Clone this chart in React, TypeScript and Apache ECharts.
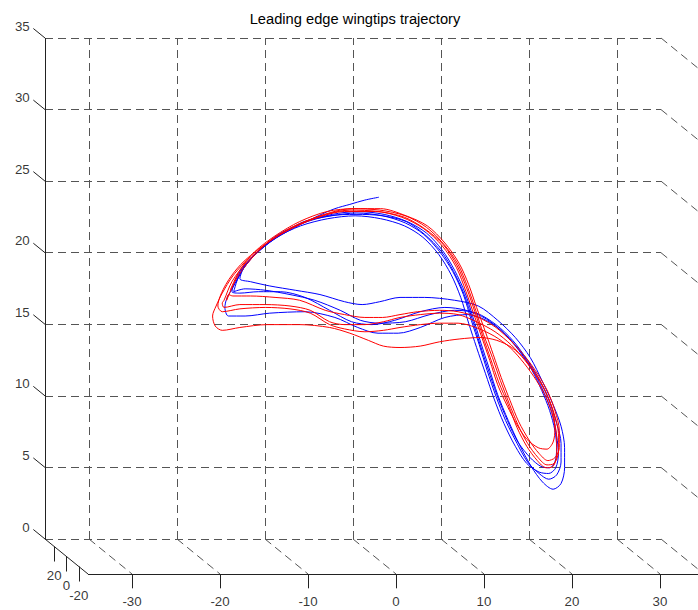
import React, { useEffect, useRef } from "react";
import * as echarts from "echarts";

const TITLE = "Leading edge wingtips trajectory";
const X_TICKS = [-30, -20, -10, 0, 10, 20, 30];
const Y_TICKS = [20, 0, -20];
const Z_TICKS = [0, 5, 10, 15, 20, 25, 30, 35];
const X_RANGE = [-35, 35];
const Y_RANGE = [-35, 35];
const Z_RANGE = [0, 35];
const TRACK_DEPTH = 0;

// trajectory samples as [x, z] (depth = TRACK_DEPTH)
const blueLoop1 = [
  [-15.7, 19.2], [-14.6, 20.4], [-12.8, 21.5], [-10.5, 22.6], [-7.8, 23.4], [-4.8, 23.9], [-1.9, 24.1], [1.1, 23.9], [3.7, 23.4], [5.9, 22.6], [7.7, 21.4], [9.1, 20.0], [10.3, 18.4], [11.2, 16.7], [12.1, 14.9], [13.0, 13.2], [14.0, 11.3], [15.2, 9.5], [16.4, 7.9], [17.8, 6.3], [19.1, 5.2], [20.3, 4.7], [21.2, 5.1], [21.6, 6.2], [21.6, 7.6], [21.2, 9.1], [20.3, 10.6], [19.1, 12.2], [17.7, 13.9], [16.0, 15.3], [14.0, 16.5], [11.8, 17.5], [9.1, 17.9], [5.7, 18.1], [2.9, 18.1], [0.6, 17.8], [-1.4, 17.6], [-3.4, 17.8], [-6.2, 18.3], [-9.0, 18.6], [-11.9, 18.9], [-14.1, 19.2], [-15.3, 19.4],
];
const blueLoop2 = [
  [-14.9, 20.1], [-13.1, 21.4], [-10.9, 22.5], [-8.1, 23.3], [-5.1, 23.8], [-2.1, 23.9], [0.9, 23.8], [3.5, 23.3], [5.6, 22.5], [7.4, 21.3], [8.9, 19.9], [10.1, 18.3], [11.0, 16.5], [11.9, 14.8], [12.8, 13.0], [13.8, 11.2], [14.9, 9.5], [16.2, 7.9], [17.4, 6.6], [18.7, 5.8], [19.8, 5.4], [20.7, 5.7], [21.2, 6.6], [21.2, 7.9], [20.7, 9.3], [19.9, 10.8], [18.8, 12.3], [17.4, 13.7], [15.7, 15.1], [13.8, 16.2], [11.6, 17.0], [9.1, 17.2], [6.3, 16.9], [3.5, 16.4], [0.6, 16.3], [-1.6, 16.5], [-3.9, 17.2], [-6.8, 17.9], [-9.6, 18.3], [-12.4, 18.6], [-14.7, 18.7], [-16.0, 18.5],
];
const blueLoop3 = [
  [-15.2, 19.9], [-13.4, 21.2], [-11.1, 22.3], [-8.4, 23.1], [-5.3, 23.6], [-2.2, 23.8], [0.7, 23.6], [3.4, 23.1], [5.5, 22.3], [7.3, 21.1], [8.7, 19.7], [9.8, 18.1], [10.7, 16.3], [11.6, 14.6], [12.6, 12.8], [13.6, 11.0], [14.7, 9.3], [16.0, 7.7], [17.3, 6.5], [18.7, 5.9], [19.8, 5.8], [20.6, 6.2], [20.9, 7.2], [20.7, 8.4], [20.2, 10.0], [19.3, 11.4], [18.1, 12.9], [16.6, 14.3], [14.9, 15.5], [13.0, 16.4], [10.6, 16.9], [8.0, 16.7], [5.2, 16.0], [2.7, 15.6], [0.4, 15.6], [-1.9, 16.0], [-4.5, 16.7], [-7.9, 17.1], [-11.9, 17.0], [-14.7, 16.8], [-16.6, 16.8], [-17.0, 17.4], [-16.8, 18.0],
];
const blueLoop4 = [
  [-16.0, 18.9], [-14.7, 20.3], [-12.9, 21.5], [-10.6, 22.5], [-8.0, 23.4], [-4.9, 23.8], [-2.0, 24.0], [1.0, 23.8], [3.6, 23.4], [5.7, 22.5], [7.6, 21.3], [9.0, 19.9], [10.2, 18.3], [11.1, 16.6], [12.0, 14.8], [12.9, 13.1], [13.9, 11.3], [15.1, 9.5], [16.3, 8.0], [17.7, 6.9], [18.9, 6.3], [19.9, 6.2], [20.5, 6.6], [20.7, 7.6], [20.5, 8.8], [19.9, 10.2], [19.0, 11.6], [17.9, 13.0], [16.4, 14.4], [14.7, 15.6], [12.7, 16.6], [10.4, 17.2], [8.0, 17.4], [5.2, 17.1], [2.3, 16.5], [-0.3, 16.2], [-2.6, 16.4], [-5.1, 17.2], [-7.9, 18.1], [-10.7, 18.5], [-13.2, 18.5], [-15.3, 18.4], [-16.2, 18.5],
];
const blueTail = [
  [-15.3, 19.9], [-13.6, 21.1], [-11.3, 22.2], [-8.7, 23.1], [-6.4, 23.8], [-4.5, 24.3], [-2.8, 24.6], [-1.1, 24.9], [0.5, 25.1],
];

const redLoop1 = [
  [-16.4, 18.6], [-15.3, 20.0], [-13.6, 21.3], [-11.3, 22.4], [-8.5, 23.4], [-5.4, 24.1], [-2.3, 24.3], [0.7, 24.3], [3.6, 23.8], [6.0, 23.1], [8.0, 21.9], [9.6, 20.5], [10.7, 19.0], [11.6, 17.4], [12.6, 15.7], [13.5, 14.1], [14.4, 12.5], [15.4, 10.9], [16.4, 9.4], [17.6, 8.1], [18.7, 7.2], [19.7, 6.7], [20.5, 6.9], [21.0, 7.6], [21.0, 8.8], [20.5, 10.2], [19.7, 11.5], [18.6, 12.7], [17.2, 13.9], [15.6, 15.0], [13.8, 16.0], [11.8, 16.7], [9.5, 17.1], [7.4, 17.2], [4.9, 17.1], [2.9, 16.9], [0.9, 16.7], [-1.1, 16.7], [-3.4, 16.9], [-5.6, 17.2], [-8.5, 17.9], [-11.3, 18.1], [-14.1, 18.2], [-16.1, 18.2], [-16.6, 18.3],
];
const redLoop2 = [
  [-16.8, 17.9], [-15.7, 19.4], [-14.0, 20.8], [-11.8, 22.1], [-8.9, 23.1], [-5.7, 23.9], [-2.6, 24.3], [0.6, 24.2], [3.5, 23.8], [5.9, 23.0], [7.9, 21.8], [9.5, 20.4], [10.6, 18.8], [11.5, 17.2], [12.4, 15.5], [13.4, 13.9], [14.3, 12.3], [15.3, 10.7], [16.3, 9.2], [17.4, 7.9], [18.6, 6.9], [19.6, 6.4], [20.4, 6.5], [20.9, 7.3], [20.9, 8.6], [20.4, 10.0], [19.6, 11.3], [18.5, 12.5], [17.1, 13.7], [15.5, 14.8], [13.7, 15.7], [11.6, 16.4], [9.5, 16.9], [7.4, 17.0], [5.2, 16.9], [2.9, 16.7], [1.0, 16.4], [-1.1, 16.2], [-3.4, 16.2], [-5.1, 16.4], [-7.3, 17.2], [-9.6, 17.5], [-12.4, 17.6], [-15.3, 17.6], [-17.1, 17.4], [-17.3, 17.7],
];
const redLoop3 = [
  [-17.1, 17.9], [-16.2, 19.2], [-14.5, 20.6], [-12.2, 21.9], [-9.4, 23.0], [-6.1, 23.8], [-2.8, 24.2], [0.5, 24.1], [3.4, 23.7], [5.7, 22.9], [7.8, 21.8], [9.4, 20.3], [10.5, 18.7], [11.4, 17.1], [12.3, 15.4], [13.2, 13.8], [14.1, 12.2], [15.2, 10.6], [16.2, 9.0], [17.3, 7.7], [18.5, 6.7], [19.5, 6.2], [20.3, 6.3], [20.7, 7.1], [20.7, 8.3], [20.3, 9.7], [19.5, 11.1], [18.4, 12.3], [17.0, 13.5], [15.4, 14.6], [13.6, 15.4], [11.5, 16.0], [9.5, 16.3], [7.4, 16.3], [5.2, 16.2], [2.9, 16.0], [1.0, 15.8], [-1.1, 15.7], [-3.4, 15.9], [-5.1, 16.2], [-7.3, 17.0], [-9.6, 17.3], [-12.4, 17.4], [-15.3, 17.3], [-17.3, 17.1], [-17.8, 17.5],
];
const redLoop4 = [
  [-16.9, 19.0], [-15.2, 20.4], [-12.9, 21.6], [-10.1, 22.7], [-6.8, 23.6], [-3.4, 24.1], [0.1, 24.1], [3.1, 23.7], [5.6, 22.9], [7.7, 21.7], [9.3, 20.2], [10.4, 18.5], [11.3, 16.9], [12.2, 15.3], [13.1, 13.7], [14.0, 12.0], [15.1, 10.5], [16.2, 9.2], [17.3, 8.2], [18.6, 7.6], [19.6, 7.5], [20.3, 8.0], [20.5, 8.9], [20.3, 10.1], [19.6, 11.3], [18.6, 12.5], [17.2, 13.7], [15.6, 14.6], [13.9, 15.1], [12.0, 15.3], [9.7, 15.2], [7.4, 15.0], [5.2, 14.7], [2.9, 14.6], [1.0, 14.7], [-0.7, 15.1], [-2.8, 15.6], [-5.1, 16.0], [-8.5, 16.2], [-12.2, 16.2], [-15.3, 16.0], [-17.3, 15.8], [-18.1, 16.1], [-18.4, 16.8], [-18.0, 17.5],
];
const redTail = [[-17.3, 18.4], [-16.1, 19.6], [-14.4, 20.8]];

// oblique projection of the 3-D box onto the page
const ORIGIN = [45, 539]; // page position of (xmin, ymax, zmin)
const SCALE_X = 8.8;
const SCALE_Z = 14.314;
const DEPTH_DX = 0.6143;
const DEPTH_DY = 0.5;
function proj(x: number, y: number, z: number): number[] {
  return [
    ORIGIN[0] + (x - X_RANGE[0]) * SCALE_X + (Y_RANGE[1] - y) * DEPTH_DX,
    ORIGIN[1] - (z - Z_RANGE[0]) * SCALE_Z + (Y_RANGE[1] - y) * DEPTH_DY,
  ];
}

const FONT = "'Liberation Sans', Arial, Helvetica, sans-serif";

export default function App() {
  const ref = useRef<HTMLDivElement>(null);
  useEffect(() => {
    if (!ref.current) return;
    const chart = echarts.init(ref.current, undefined, { renderer: "svg" });
    const [x0, x1] = X_RANGE;
    const [y0, y1] = Y_RANGE;
    const [z0, z1] = Z_RANGE;
    const seg = (a: number[], b: number[]) => ({ coords: [proj(a[0], a[1], a[2]), proj(b[0], b[1], b[2])] });

    const gridSegs: any[] = [];
    Z_TICKS.forEach((z) => {
      gridSegs.push(seg([x0, y1, z], [x1, y1, z]));
      gridSegs.push(seg([x1, y1, z], [x1, y0, z]));
    });
    X_TICKS.forEach((x) => {
      gridSegs.push(seg([x, y1, z0], [x, y1, z1]));
      gridSegs.push(seg([x, y1, z0], [x, y0, z0]));
    });
    const axisSegs: any[] = [
      seg([x0, y1, z0], [x0, y1, z1]),
      seg([x0, y1, z0], [x0, y0, z0]),
      seg([x0, y0, z0], [x1, y0, z0]),
    ];
    Z_TICKS.forEach((z) => axisSegs.push(seg([x0, y1, z], [x0, y1 + 19, z])));
    X_TICKS.forEach((x) => axisSegs.push(seg([x, y0, z0], [x, y0, z0 - 1])));
    Y_TICKS.forEach((y) => axisSegs.push(seg([x0, y, z0], [x0, y, z0 - 1.05])));

    const track = (pts: number[][]) => pts.map((p) => proj(p[0], TRACK_DEPTH, p[1]));
    const blue = track([...blueLoop1, ...blueLoop2, ...blueLoop3, ...blueLoop4, ...blueTail]);
    const red = track([...redLoop1, ...redLoop2, ...redLoop3, ...redLoop4, ...redTail]);

    const labelSeries = (items: { pos: number[]; text: string }[], position: string) => ({
      type: "scatter",
      silent: true,
      symbolSize: 1,
      itemStyle: { color: "rgba(0,0,0,0)" },
      z: 5,
      data: items.map((it) => ({ value: it.pos, name: it.text })),
      label: {
        show: true,
        formatter: "{b}",
        position,
        distance: 0,
        color: "#000",
        fontSize: 13.3,
        fontFamily: FONT,
      },
    });

    chart.setOption({
      animation: false,
      backgroundColor: "#fff",
      grid: { left: 0, right: 0, top: 0, bottom: 0 },
      xAxis: { type: "value", min: 0, max: 698, show: false },
      yAxis: { type: "value", min: 0, max: 610, inverse: true, show: false },
      graphic: [
        {
          type: "text",
          x: 355,
          y: 19,
          style: {
            text: TITLE,
            fill: "#000",
            font: `14.7px ${FONT}`,
            align: "center",
            verticalAlign: "middle",
          },
        },
      ],
      series: [
        {
          type: "lines",
          coordinateSystem: "cartesian2d",
          silent: true,
          z: 1,
          data: gridSegs,
          lineStyle: { color: "#555", width: 1, type: [8, 5], opacity: 1 },
        },
        {
          type: "lines",
          coordinateSystem: "cartesian2d",
          silent: true,
          z: 2,
          data: axisSegs,
          lineStyle: { color: "#222", width: 1, type: "solid", opacity: 1 },
        },
        {
          type: "line",
          data: blue,
          silent: true,
          showSymbol: false,
          symbol: "none",
          smooth: 0.3,
          z: 3,
          lineStyle: { color: "#0000ff", width: 1 },
        },
        {
          type: "line",
          data: red,
          silent: true,
          showSymbol: false,
          symbol: "none",
          smooth: 0.3,
          z: 4,
          lineStyle: { color: "#ff0000", width: 1 },
        },
        labelSeries(
          Z_TICKS.map((z) => ({ pos: proj(x0, y1 + 24, z), text: String(z) })),
          "left"
        ),
        labelSeries(
          X_TICKS.map((x) => ({ pos: proj(x, y0, z0 - 1.9), text: String(x) })),
          "inside"
        ),
        labelSeries(
          Y_TICKS.map((y) => ({ pos: proj(x0, y, z0 - 2.0), text: String(y) })),
          "inside"
        ),
      ],
    });
    return () => chart.dispose();
  }, []);
  return (
    <div
      ref={ref}
      style={{ position: "absolute", left: 0, top: 0, width: 698, height: 610, background: "#fff" }}
    />
  );
}
